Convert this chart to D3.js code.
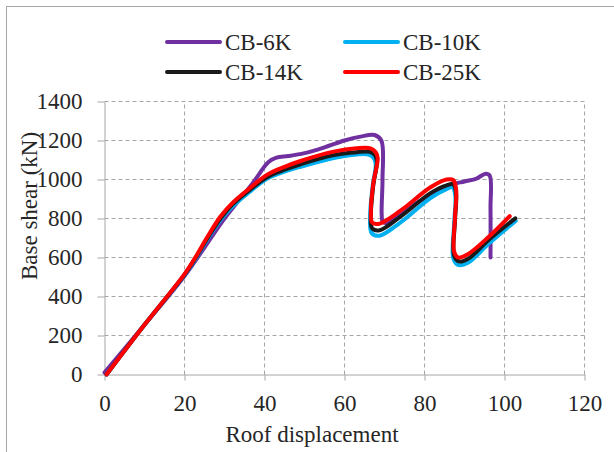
<!DOCTYPE html>
<html>
<head>
<meta charset="utf-8">
<script src="https://cdn.jsdelivr.net/npm/d3@7"></script>
<style>
  body { margin: 0; background: #fff; }
  text { font-family: "Liberation Serif", "Times New Roman", serif; fill: #262626; }
</style>
</head>
<body>
<svg id="chart" width="614" height="452"></svg>
<script>
// Pushover curves
const cb6kX = [0, 10, 20, 30, 37, 41, 43, 46, 50, 55, 60, 64, 67.5, 69.2, 69.5, 69.3, 69.6, 71, 76, 82, 86.5, 90, 93, 95.3, 96.3, 96.5, 96.5];
const cb6kY = [10, 255, 505, 800, 980, 1090, 1112, 1120, 1135, 1165, 1200, 1220, 1228, 1200, 1000, 820, 783, 778, 855, 925, 972, 990, 1005, 1030, 1020, 850, 600];

const cb10kX = [0.5, 10, 20, 23, 26, 29, 32, 36, 40.7, 45, 49, 57.3, 63, 66, 67.3, 67.8, 67, 66.4, 66.8, 68.8, 74, 81.5, 85.5, 87, 87.7, 87.4, 87.2, 88.4, 91, 96, 102.8];
const cb10kY = [0, 255, 510, 602, 702, 792, 862, 932, 1005, 1040, 1065, 1110, 1128, 1128, 1110, 1080, 960, 810, 725, 712, 780, 905, 950, 960, 915, 770, 595, 562, 575, 670, 788];

const cb14kX = [0.5, 10, 20, 23, 26, 29, 32, 36, 40.7, 45, 49, 57.3, 63, 66.3, 67.6, 68.1, 67.2, 66.6, 66.9, 68.8, 74, 81.5, 85.5, 87.2, 87.9, 87.6, 87.4, 88.6, 91, 96, 102.7];
const cb14kY = [0, 255, 512, 606, 708, 800, 872, 942, 1013, 1050, 1078, 1125, 1140, 1142, 1125, 1095, 970, 820, 750, 740, 810, 930, 970, 975, 930, 780, 610, 580, 595, 690, 801];

const cb25kX = [0.5, 10, 20, 23, 26, 29, 32, 36, 40.7, 45, 49, 57.3, 63, 66.5, 67.8, 68.3, 67.2, 66.6, 66.9, 68.5, 74, 81.5, 85.5, 87.2, 87.9, 87.6, 87.4, 88.4, 90.7, 96, 101.3];
const cb25kY = [0, 255, 515, 610, 715, 810, 880, 950, 1025, 1065, 1095, 1143, 1160, 1160, 1140, 1110, 980, 830, 780, 772, 840, 960, 1000, 997, 950, 800, 630, 600, 615, 705, 812];

const seriesNames = ["CB-6K", "CB-10K", "CB-14K", "CB-25K"];
const seriesColors = ["#7030a0", "#00b0f0", "#1a1a1a", "#ff0000"];
const xTicks = [0, 20, 40, 60, 80, 100, 120];
const yTicks = [0, 200, 400, 600, 800, 1000, 1200, 1400];

const series = [
  { name: seriesNames[0], color: seriesColors[0], points: d3.zip(cb6kX, cb6kY) },
  { name: seriesNames[1], color: seriesColors[1], points: d3.zip(cb10kX, cb10kY) },
  { name: seriesNames[2], color: seriesColors[2], points: d3.zip(cb14kX, cb14kY) },
  { name: seriesNames[3], color: seriesColors[3], points: d3.zip(cb25kX, cb25kY) },
];

const svg = d3.select("#chart");

// outer frame
svg.append("rect")
  .attr("x", 6.5).attr("y", 6.5)
  .attr("width", 640).attr("height", 480)
  .attr("fill", "none")
  .attr("stroke", "#a6a6a6");

const x = d3.scaleLinear().domain([0, 120]).range([104.5, 584.5]);
const y = d3.scaleLinear().domain([0, 1400]).range([374.5, 101.5]);

// dashed gridlines
const grid = svg.append("g").attr("class", "grid");
grid.selectAll(".vgrid")
  .data(xTicks.slice(1))
  .enter()
  .append("line")
  .attr("x1", (d) => x(d)).attr("x2", (d) => x(d))
  .attr("y1", y(0)).attr("y2", y(1400))
  .attr("stroke", "#a6a6a6")
  .attr("stroke-dasharray", "4,3");
grid.selectAll(".hgrid")
  .data(yTicks.slice(1))
  .enter()
  .append("line")
  .attr("x1", x(0)).attr("x2", x(120))
  .attr("y1", (d) => y(d)).attr("y2", (d) => y(d))
  .attr("stroke", "#a6a6a6")
  .attr("stroke-dasharray", "4,3");

// axes
const xAxis = svg.append("g")
  .attr("transform", `translate(0,${y(0)})`)
  .call(d3.axisBottom(x).tickValues(xTicks).tickFormat(d3.format("d"))
    .tickSize(6).tickPadding(14).tickSizeOuter(0));
const yAxis = svg.append("g")
  .attr("transform", `translate(${x(0)},0)`)
  .call(d3.axisLeft(y).tickValues(yTicks).tickFormat(d3.format("d"))
    .tickSize(7).tickPadding(15).tickSizeOuter(0));

[xAxis, yAxis].forEach((ax) => {
  ax.attr("font-family", null).attr("font-size", null);
  ax.select(".domain").attr("stroke", "#a6a6a6");
  ax.selectAll(".tick line").attr("stroke", "#a6a6a6");
  ax.selectAll(".tick text")
    .style("font-family", "'Liberation Serif', 'Times New Roman', serif")
    .style("font-size", "23px")
    .style("fill", "#262626");
});

// curves
const line = d3.line()
  .x((d) => x(d[0]))
  .y((d) => y(d[1]))
  .curve(d3.curveCatmullRom.alpha(0.5));

svg.append("g")
  .selectAll("path")
  .data(series)
  .enter()
  .append("path")
  .attr("d", (d) => line(d.points))
  .attr("fill", "none")
  .attr("stroke", (d) => d.color)
  .attr("stroke-width", 4)
  .attr("stroke-linejoin", "round")
  .attr("stroke-linecap", "round");

// axis titles
svg.append("text")
  .attr("x", 312).attr("y", 441.5)
  .attr("text-anchor", "middle")
  .attr("font-size", 23)
  .text("Roof displacement");

svg.append("text")
  .attr("transform", "translate(37,206) rotate(-90)")
  .attr("text-anchor", "middle")
  .attr("font-size", 23)
  .text("Base shear (kN)");

// legend
const legend = svg.append("g")
  .selectAll("g")
  .data(series)
  .enter()
  .append("g")
  .attr("transform", (d, i) => `translate(${167 + (i % 2) * 178},${42 + Math.floor(i / 2) * 30})`);

legend.append("line")
  .attr("x1", 0).attr("x2", 53)
  .attr("stroke", (d) => d.color)
  .attr("stroke-width", 4)
  .attr("stroke-linecap", "round");

legend.append("text")
  .attr("x", 58).attr("y", 8)
  .attr("font-size", 23)
  .text((d) => d.name);
</script>
</body>
</html>
